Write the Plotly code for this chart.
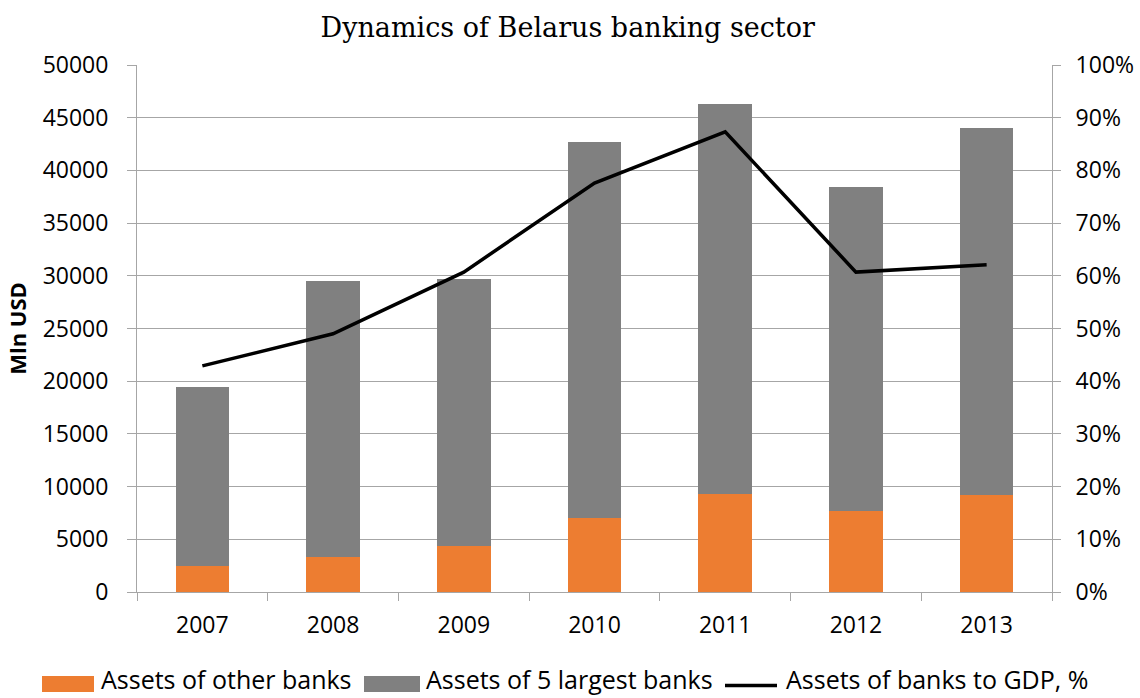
import plotly.graph_objects as go

# Belarus banking sector, 2007-2013
years = ["2007", "2008", "2009", "2010", "2011", "2012", "2013"]
total_assets = [19470, 29510, 29730, 42650, 46320, 38440, 44070]   # Mln USD
other_banks = [2510, 3320, 4370, 7030, 9310, 7690, 9210]           # Mln USD
top5_banks = [t - o for t, o in zip(total_assets, other_banks)]    # Mln USD
assets_to_gdp = [0.429, 0.490, 0.607, 0.776, 0.873, 0.607, 0.621]  # share of GDP

left_ticks = list(range(0, 50001, 5000))
left_labels = [str(v) for v in left_ticks]
right_ticks = [i / 10 for i in range(0, 11)]

series_names = ["Assets of other banks", "Assets of 5 largest banks", "Assets of banks to GDP, %"]

ORANGE = "#ED7D31"
GRAY = "#808080"
GRID = "#A6A6A6"
TICK_FONT = dict(family="Open Sans, sans-serif", size=23, color="#000000")

W, H = 1140, 698
ML, MR, MT, MB = 137, 88, 65, 106
PW, PH = W - ML - MR, H - MT - MB


def px_x(x):
    """pixel column -> paper x"""
    return (x - ML) / PW


def px_y(y):
    """pixel row -> paper y"""
    return (H - MB - y) / PH


fig = go.Figure()
fig.add_trace(go.Bar(
    x=years, y=other_banks, name=series_names[0],
    marker=dict(color=ORANGE, line=dict(width=0)), width=0.41,
))
fig.add_trace(go.Bar(
    x=years, y=top5_banks, name=series_names[1],
    marker=dict(color=GRAY, line=dict(width=0)), width=0.41,
))
fig.add_trace(go.Scatter(
    x=years, y=assets_to_gdp, name=series_names[2],
    mode="lines", line=dict(color="#000000", width=3.5), yaxis="y2",
))

# legend row drawn underneath the plot
legend_font = dict(family="Open Sans, sans-serif", size=25, color="#000000")
shapes = [
    dict(type="rect", xref="paper", yref="paper",
         x0=px_x(42), x1=px_x(94), y0=px_y(692), y1=px_y(676),
         fillcolor=ORANGE, line=dict(width=0)),
    dict(type="rect", xref="paper", yref="paper",
         x0=px_x(364), x1=px_x(420), y0=px_y(692), y1=px_y(676),
         fillcolor=GRAY, line=dict(width=0)),
    dict(type="line", xref="paper", yref="paper",
         x0=px_x(725), x1=px_x(777), y0=px_y(685.5), y1=px_y(685.5),
         line=dict(color="#000000", width=3.5)),
]
annotations = [
    dict(text=name, xref="paper", yref="paper", x=px_x(x0), y=px_y(679),
         xanchor="left", yanchor="middle", showarrow=False, font=legend_font)
    for name, x0 in zip(series_names, [99, 424, 784])
]

fig.update_layout(
    width=W, height=H,
    barmode="stack",
    showlegend=False,
    paper_bgcolor="white", plot_bgcolor="white",
    margin=dict(l=ML, r=MR, t=MT, b=MB, autoexpand=False),
    title=dict(
        text="Dynamics of Belarus banking sector",
        x=0.498, xanchor="center", y=0.96, yanchor="middle",
        font=dict(family="DejaVu Serif, Liberation Serif, serif", size=27, color="#000000"),
    ),
    xaxis=dict(
        type="category", tickfont=TICK_FONT,
        showgrid=False, showline=True, linecolor=GRID, linewidth=1,
        ticks="outside", tickson="boundaries", ticklen=8, tickcolor=GRID,
        ticklabelstandoff=12,
    ),
    yaxis=dict(
        range=[0, 50000], tickvals=left_ticks, ticktext=left_labels, tickfont=TICK_FONT,
        showgrid=True, gridcolor=GRID, gridwidth=1,
        showline=True, linecolor=GRID, linewidth=1,
        ticks="outside", ticklen=9, tickcolor=GRID,
        ticklabelstandoff=14,
        zeroline=False,
        title=dict(text="<b>Mln USD</b>", standoff=9,
                   font=dict(family="Open Sans, sans-serif", size=22, color="#000000")),
    ),
    yaxis2=dict(
        range=[0, 1], tickvals=right_ticks, tickformat=".0%", tickfont=TICK_FONT,
        overlaying="y", side="right", showgrid=False,
        showline=True, linecolor=GRID, linewidth=1,
        ticks="outside", ticklen=8, tickcolor=GRID, zeroline=False,
        ticklabelstandoff=10,
    ),
    shapes=shapes,
    annotations=annotations,
)

fig.write_html("out.html")
